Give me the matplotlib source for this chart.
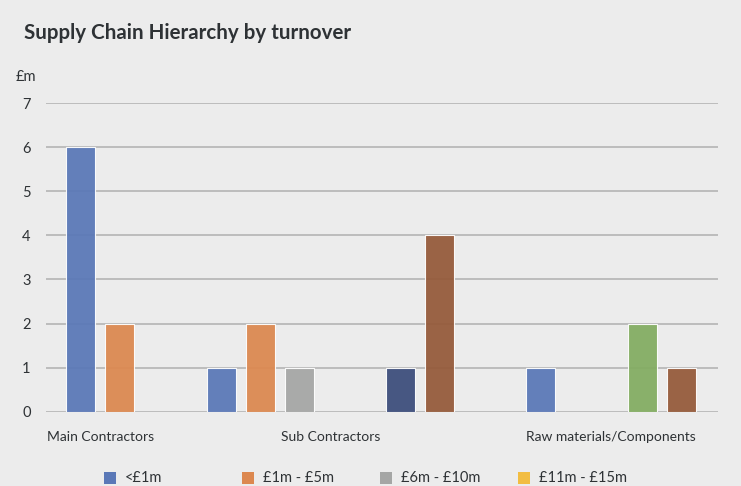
import numpy as np
import matplotlib
matplotlib.use("Agg")
import matplotlib.pyplot as plt
from matplotlib.patches import Rectangle

categories = ["Main Contractors", "Sub Contractors", "Raw materials/Components"]

# series in chart order; only the first four are named in the visible legend row
series_labels = ["<£1m", "£1m - £5m", "£6m - £10m", "£11m - £15m", None, None, None]
series_colors = ["#5a78b7", "#dc8850", "#a5a6a5", "#f2bd42", "#83ad62", "#3d4e7b", "#955a3a"]
values = [
    [6, 1, 1],   # <£1m
    [2, 2, 0],   # £1m - £5m
    [0, 1, 0],   # £6m - £10m
    [0, 0, 0],   # £11m - £15m
    [0, 0, 2],   # green
    [0, 1, 0],   # navy
    [0, 4, 1],   # brown
]

bg = "#ececec"
text_col = "#2e3235"

plt.rcParams["font.family"] = ["Lato", "DejaVu Sans"]

fig = plt.figure(figsize=(7.41, 4.86), dpi=100, facecolor=bg)
ax = fig.add_axes([46 / 741, 74.3 / 486, 672 / 741, 308.7 / 486], facecolor=bg)

# bars are packed: step 1 between neighbours, wider gap between categories
# or where more than one series is empty
pos = []
cat_spans = []
x = None
for c in range(len(categories)):
    first = None
    last_s = None
    for s in range(len(values)):
        if values[s][c] == 0:
            continue
        if x is None:
            x = 0.0
        elif last_s is None or s - last_s > 2:
            x += 2.6
        else:
            x += 1.0
        pos.append((c, s, x))
        if first is None:
            first = x
        last_s = s
    cat_spans.append((first, x))

width = 0.744
for c, s, xp in pos:
    ax.bar(xp, values[s][c], width=width, color=series_colors[s], alpha=0.94,
           edgecolor=(1, 1, 1, 0.12), linewidth=0.8, zorder=2)

ax.set_xlim(-0.89, 16.34)
ax.set_ylim(0, 7)
ax.set_yticks(range(8))
ax.yaxis.grid(True, color="#bcbcbc", linewidth=1.4, zorder=1)
ax.set_axisbelow(True)
for sp in ax.spines.values():
    sp.set_visible(False)
ax.tick_params(axis="y", length=0, pad=11, labelsize=10.5, labelcolor=text_col)
ax.tick_params(axis="x", length=0, pad=14, labelsize=10, labelcolor=text_col)
ax.set_xticks([(a + b) / 2 for a, b in cat_spans])
ax.set_xticklabels(categories)
for lab in ax.get_yticklabels():
    lab.set_clip_on(False)

fig.text(24 / 741, 1 - 33 / 486, "Supply Chain Hierarchy by turnover", fontsize=14.8,
         fontweight="bold", color=text_col, va="center", ha="left")
fig.text(16 / 741, 1 - 77 / 486, "£m", fontsize=10.5, color=text_col, va="center", ha="left")

# legend row (only the first row is visible in the frame)
for i, lab in enumerate(series_labels[:4]):
    x0 = (104 + i * 138) / 741
    fig.patches.append(Rectangle((x0, 2 / 486), 12 / 741, 12 / 486, transform=fig.transFigure,
                                 facecolor=series_colors[i], edgecolor="none", figure=fig))
    fig.text(x0 + 21 / 741, 8 / 486, lab, fontsize=10.5, color=text_col, va="center", ha="left")

fig.savefig("out.png", dpi=100, facecolor=bg)
